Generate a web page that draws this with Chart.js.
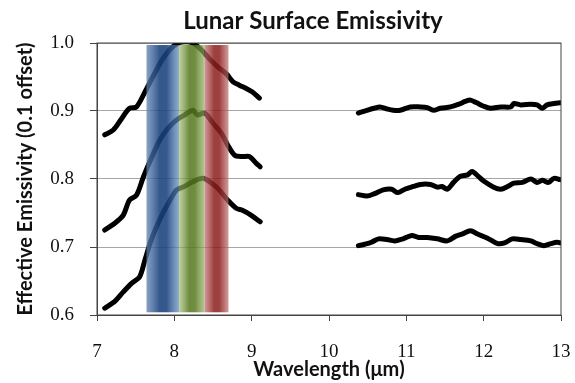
<!DOCTYPE html>
<html>
<head>
<meta charset="utf-8">
<script src="https://cdn.jsdelivr.net/npm/chart.js@4/dist/chart.umd.min.js"></script>
<style>
  html, body { margin: 0; padding: 0; background: #fff; }
  #wrap { width: 575px; height: 383px; }
</style>
</head>
<body>
<div id="wrap"><canvas id="emissivity"></canvas></div>
<script>
  // wavelengths (um) and effective emissivity (0.1 offset between curves)
  const leftTopX = [7.10, 7.21, 7.32, 7.42, 7.51, 7.62, 7.72, 7.83, 7.94, 8.05, 8.15, 8.24, 8.35, 8.45, 8.56, 8.67, 8.76, 8.84, 8.93, 9.01, 9.10];
  const leftTopY = [0.865, 0.872, 0.889, 0.904, 0.906, 0.928, 0.950, 0.973, 0.990, 1.000, 1.002, 1.000, 0.990, 0.977, 0.965, 0.955, 0.943, 0.938, 0.933, 0.928, 0.919];

  const leftMidX = [7.10, 7.23, 7.34, 7.42, 7.51, 7.60, 7.70, 7.81, 7.92, 8.03, 8.13, 8.24, 8.30, 8.39, 8.50, 8.61, 8.69, 8.78, 8.88, 8.97, 9.06, 9.11];
  const leftMidY = [0.725, 0.735, 0.747, 0.769, 0.776, 0.803, 0.830, 0.857, 0.875, 0.887, 0.894, 0.901, 0.894, 0.897, 0.882, 0.867, 0.850, 0.835, 0.833, 0.833, 0.823, 0.818];

  const leftLowX = [7.10, 7.23, 7.34, 7.45, 7.55, 7.62, 7.70, 7.81, 7.92, 8.03, 8.13, 8.24, 8.37, 8.48, 8.58, 8.69, 8.80, 8.88, 8.99, 9.11];
  const leftLowY = [0.610, 0.620, 0.634, 0.647, 0.656, 0.681, 0.710, 0.740, 0.764, 0.784, 0.789, 0.796, 0.801, 0.794, 0.784, 0.769, 0.757, 0.754, 0.747, 0.737];

  const rightTopX = [10.38, 10.49, 10.58, 10.66, 10.75, 10.83, 10.92, 11.05, 11.18, 11.27, 11.35, 11.44, 11.57, 11.68, 11.76, 11.83, 11.91, 12.00, 12.09, 12.22, 12.35, 12.39, 12.48, 12.61, 12.69, 12.76, 12.82, 12.91, 12.99];
  const rightTopY = [0.897, 0.901, 0.904, 0.906, 0.903, 0.901, 0.901, 0.906, 0.906, 0.905, 0.901, 0.904, 0.906, 0.910, 0.914, 0.916, 0.912, 0.907, 0.904, 0.906, 0.906, 0.911, 0.909, 0.910, 0.909, 0.904, 0.909, 0.911, 0.912];

  const rightMidX = [10.38, 10.49, 10.58, 10.70, 10.81, 10.89, 10.98, 11.09, 11.18, 11.31, 11.40, 11.46, 11.53, 11.61, 11.70, 11.79, 11.85, 11.92, 12.00, 12.13, 12.22, 12.31, 12.39, 12.50, 12.61, 12.69, 12.76, 12.84, 12.91, 12.99];
  const rightMidY = [0.777, 0.775, 0.778, 0.784, 0.785, 0.780, 0.785, 0.789, 0.792, 0.792, 0.788, 0.789, 0.785, 0.795, 0.804, 0.806, 0.811, 0.805, 0.797, 0.788, 0.785, 0.789, 0.794, 0.795, 0.800, 0.795, 0.798, 0.795, 0.801, 0.799];

  const rightLowX = [10.38, 10.46, 10.55, 10.64, 10.75, 10.85, 10.96, 11.07, 11.16, 11.27, 11.40, 11.53, 11.64, 11.72, 11.83, 11.92, 12.05, 12.18, 12.27, 12.37, 12.48, 12.61, 12.69, 12.78, 12.87, 12.95, 12.99];
  const rightLowY = [0.702, 0.704, 0.707, 0.712, 0.711, 0.709, 0.712, 0.717, 0.714, 0.714, 0.712, 0.709, 0.716, 0.719, 0.724, 0.719, 0.713, 0.705, 0.706, 0.712, 0.711, 0.709, 0.705, 0.702, 0.705, 0.707, 0.706];

  // instrument bands (um)
  const bandStart = [7.64, 8.06, 8.39];
  const bandEnd   = [8.06, 8.39, 8.70];
  const bandColors = [
    ["rgba(95,130,180,0.75)", "rgba(25,65,125,0.88)", "rgba(100,140,190,0.72)"],
    ["rgba(160,185,110,0.65)", "rgba(85,120,30,0.85)", "rgba(145,175,95,0.7)"],
    ["rgba(195,110,110,0.72)", "rgba(140,30,30,0.85)", "rgba(190,110,110,0.7)"]
  ];

  const xTicks = [7, 8, 9, 10, 11, 12, 13];
  const yTicks = [0.6, 0.7, 0.8, 0.9, 1.0];

  function pairs(xs, ys) {
    return xs.map((x, i) => ({ x: x, y: ys[i] }));
  }

  const curves = [
    pairs(leftTopX, leftTopY), pairs(leftMidX, leftMidY), pairs(leftLowX, leftLowY),
    pairs(rightTopX, rightTopY), pairs(rightMidX, rightMidY), pairs(rightLowX, rightLowY)
  ];

  // bands are painted over the curves, slightly see-through
  const bandsPlugin = {
    id: "bands",
    afterDatasetsDraw(chart) {
      const { ctx, scales } = chart;
      const top = scales.y.getPixelForValue(0.997);
      const bottom = scales.y.getPixelForValue(0.604);
      ctx.save();
      bandStart.forEach((s, i) => {
        const x0 = scales.x.getPixelForValue(s);
        const x1 = scales.x.getPixelForValue(bandEnd[i]);
        const g = ctx.createLinearGradient(x0, 0, x1, 0);
        g.addColorStop(0, bandColors[i][0]);
        g.addColorStop(0.4, bandColors[i][1]);
        g.addColorStop(0.62, bandColors[i][1]);
        g.addColorStop(1, bandColors[i][2]);
        ctx.fillStyle = g;
        ctx.fillRect(x0, top, x1 - x0, bottom - top);
      });
      ctx.restore();
    }
  };

  const framePlugin = {
    id: "frame",
    afterDraw(chart) {
      const { ctx, chartArea } = chart;
      ctx.save();
      ctx.strokeStyle = "#444";
      ctx.lineWidth = 1;
      ctx.strokeRect(chartArea.left, chartArea.top, chartArea.right - chartArea.left, chartArea.bottom - chartArea.top);
      // title, sits a bit left of the plot centre like the original
      ctx.fillStyle = "#111";
      ctx.font = "bold 24px Lato";
      ctx.textAlign = "center";
      ctx.textBaseline = "alphabetic";
      ctx.fillText("Lunar Surface Emissivity", (chartArea.left + chartArea.right) / 2 - 16, 29);
      ctx.restore();
    }
  };

  new Chart(document.getElementById("emissivity"), {
    type: "line",
    data: {
      datasets: curves.map(c => ({
        data: c,
        borderColor: "#000",
        borderWidth: 5,
        borderCapStyle: "round",
        borderJoinStyle: "round",
        pointRadius: 0,
        tension: 0.3,
        fill: false
      }))
    },
    options: {
      responsive: true,
      maintainAspectRatio: false,
      animation: false,
      layout: { padding: { top: 43, right: 14, left: 14, bottom: 0 } },
      plugins: {
        legend: { display: false },
        tooltip: { enabled: false }
      },
      scales: {
        x: {
          type: "linear",
          min: 7,
          max: 13,
          afterBuildTicks: axis => { axis.ticks = xTicks.map(v => ({ value: v })); },
          afterFit: axis => { axis.height = 68; axis.paddingLeft = 0; axis.paddingRight = 0; },
          ticks: { color: "#111", font: { family: "Liberation Serif", size: 19, lineHeight: 1 }, padding: 22, maxRotation: 0 },
          grid: { drawOnChartArea: false, tickLength: 6, tickColor: "#444" },
          border: { color: "#444" },
          title: { display: true, text: "Wavelength (μm)", color: "#111", font: { family: "Lato", size: 20, weight: "bold", lineHeight: 1 }, padding: { top: 0, bottom: 3 } }
        },
        y: {
          min: 0.6,
          max: 1.0,
          afterBuildTicks: axis => { axis.ticks = yTicks.map(v => ({ value: v })); },
          afterFit: axis => { axis.width = 83; axis.paddingTop = 0; axis.paddingBottom = 0; },
          ticks: { color: "#111", font: { family: "Liberation Serif", size: 19 }, padding: 16, callback: v => v.toFixed(1) },
          grid: { color: "#a6a6a6", tickLength: 7, tickColor: "#444" },
          border: { color: "#444" },
          title: { display: true, text: "Effective Emissivity (0.1 offset)", color: "#111", font: { family: "Lato", size: 20, weight: "bold", lineHeight: 1.2 }, padding: { top: 0, bottom: 0 } }
        }
      }
    },
    plugins: [bandsPlugin, framePlugin]
  });
</script>
</body>
</html>
